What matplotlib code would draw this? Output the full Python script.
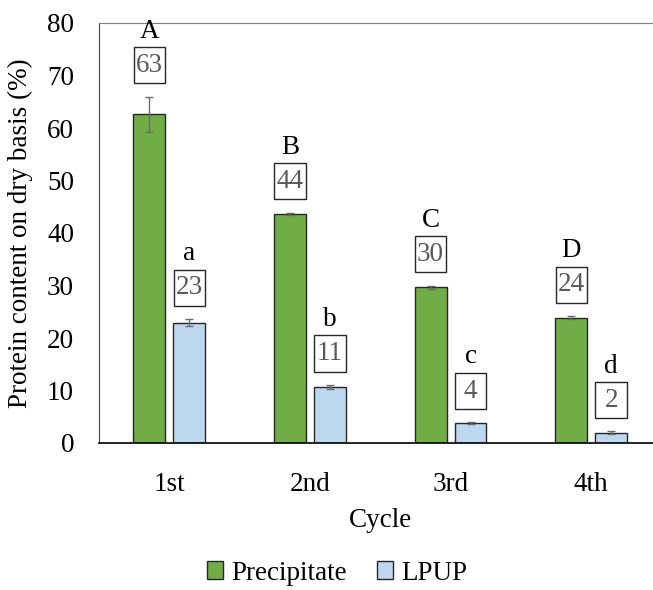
import numpy as np
from matplotlib import pyplot as plt
from matplotlib.path import Path

plt.rcParams['font.family'] = ['Liberation Serif', 'DejaVu Serif']

# Data
cycles = ['1st', '2nd', '3rd', '4th']
precipitate = [62.6, 43.7, 29.7, 23.9]
precipitate_err = [3.4, 0.2, 0.3, 0.3]
lpup = [22.9, 10.7, 3.8, 2.0]
lpup_err = [0.7, 0.4, 0.15, 0.2]
precipitate_letters = ['A', 'B', 'C', 'D']
lpup_letters = ['a', 'b', 'c', 'd']

green = '#70AD47'
blue = '#BDD7EE'
edge = '#262626'
fs = 19.5


def fixed_box(x0, y0, width, height, mutation_size):
    # same size box for every label, centred on the text
    cx, cy = x0 + width / 2, y0 + height / 2
    hw = 0.58 * mutation_size
    hh = 0.67 * mutation_size
    pts = [(cx - hw, cy - hh), (cx + hw, cy - hh), (cx + hw, cy + hh),
           (cx - hw, cy + hh), (cx - hw, cy - hh)]
    return Path(pts, closed=True)


fig = plt.figure(figsize=(6.53, 5.9), dpi=100)
ax = fig.add_axes([99/653, 147/590, 562.5/653, 420/590])

x = np.arange(len(cycles))
w = 0.227
off = 0.142

ax.bar(x - off, precipitate, w, color=green, edgecolor=edge, linewidth=1,
       label='Precipitate', zorder=2)
ax.bar(x + off, lpup, w, color=blue, edgecolor=edge, linewidth=1,
       label='LPUP', zorder=2)
ax.errorbar(x - off, precipitate, yerr=precipitate_err, fmt='none',
            ecolor='#6b6b6b', elinewidth=1, capsize=3, capthick=1, zorder=3)
ax.errorbar(x + off, lpup, yerr=lpup_err, fmt='none',
            ecolor='#6b6b6b', elinewidth=1, capsize=3, capthick=1, zorder=3)

# value boxes and letters above each bar
for xs, vals, errs, letters in [(x - off, precipitate, precipitate_err, precipitate_letters),
                                (x + off, lpup, lpup_err, lpup_letters)]:
    for xi, v, e, let in zip(xs, vals, errs, letters):
        ax.annotate(f'{v:.0f}', (xi, v + e), xytext=(0, 22.5), textcoords='offset points',
                    ha='center', va='center', fontsize=fs, color='#595959',
                    bbox=dict(boxstyle=fixed_box, fc='white', ec=edge, lw=1))
        ax.annotate(let, (xi, v + e), xytext=(0, 47), textcoords='offset points',
                    ha='center', va='center', fontsize=fs, color='black')

ax.set_xlim(-0.5, 3.5)
ax.set_ylim(0, 80)
ax.set_yticks(range(0, 81, 10))
ax.set_xticks(x)
ax.set_xticklabels(cycles)
ax.tick_params(axis='both', length=0, labelsize=fs)
ax.tick_params(axis='x', pad=21)
ax.tick_params(axis='y', pad=18)

ax.set_xlabel('Cycle', fontsize=fs, labelpad=8)
ax.set_ylabel('Protein content on dry basis (%)', fontsize=fs, labelpad=10)

ax.spines['right'].set_visible(False)
ax.spines['top'].set_color('#7f7f7f')
ax.spines['left'].set_color('#404040')
ax.spines['bottom'].set_color('black')
ax.spines['bottom'].set_linewidth(1.2)

fig.legend(loc='center', bbox_to_anchor=(337/653, 17/590), ncol=2, frameon=False,
           fontsize=fs, handlelength=0.6, handleheight=0.6, handletextpad=0.3,
           columnspacing=1.1)

fig.savefig('out.png', dpi=100)
